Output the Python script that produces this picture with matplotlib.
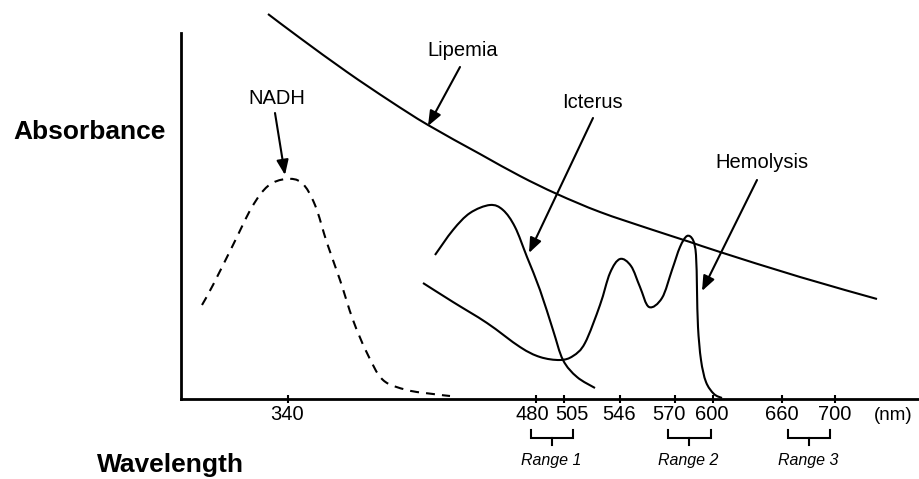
import numpy as np
import matplotlib
matplotlib.use("Agg")
import matplotlib.pyplot as plt
from matplotlib.path import Path
from matplotlib.patches import PathPatch

plt.rcParams['font.family'] = ['Liberation Sans', 'DejaVu Sans']

# Schematic axis: x is a drawing position along the wavelength axis, y is relative absorbance
tick_pos = [288, 536, 564, 620, 675, 713, 782, 835]
tick_label_pos = [287, 532, 572, 619, 669, 712, 782, 835]
tick_labels = ['340', '480', '505', '546', '570', '600', '660', '700']

# Absorbance curves (schematic traces)
lipemia_x = [268, 300, 347, 390, 428, 480, 520, 557, 600, 650, 690, 720, 800, 877]
lipemia_y = [385, 361, 327, 298, 274, 245, 223, 205, 187, 170, 157, 147, 122, 100]

nadh_x = [202, 213, 233, 252, 268, 286, 302, 315, 327, 340, 353, 367, 383, 407, 433, 450]
nadh_y = [94, 114, 154, 192, 213, 220, 216, 194, 156, 119, 79, 46, 19, 9, 5, 3]

icterus_x = [435, 453, 470, 490, 503, 515, 527, 540, 553, 563, 577, 595]
icterus_y = [144, 169, 186, 194, 189, 172, 142, 109, 69, 39, 22, 11]

hemolysis_x = [423, 453, 487, 520, 540, 560, 573, 585, 600, 610, 620, 631, 640, 649,
               662, 672, 680, 687, 693, 696, 697, 698, 701, 706, 714, 722]
hemolysis_y = [116, 97, 76, 52, 42, 39, 43, 56, 94, 126, 140, 133, 112, 92,
               101, 129, 152, 163, 159, 144, 109, 72, 39, 17, 5, 1]

# Labels with arrow start and arrow tip
labels = ['Lipemia', 'NADH', 'Icterus', 'Hemolysis']
label_xy = [(463, 348), (277, 301), (592, 296), (762, 237)]
arrow_from = [(460, 332), (275, 286), (593, 281), (757, 219)]
arrow_to = [(428, 273), (285, 224), (529, 146), (702, 108)]

# Wavelength ranges shown as brackets under the axis
range_names = ['Range 1', 'Range 2', 'Range 3']
range_left = [531, 668, 788]
range_right = [573, 711, 830]


def smooth_path(xs, ys):
    pts = np.column_stack([xs, ys]).astype(float)
    verts = [pts[0]]
    codes = [Path.MOVETO]
    n = len(pts)
    for i in range(n - 1):
        p0 = pts[i - 1] if i > 0 else pts[i]
        p1 = pts[i]
        p2 = pts[i + 1]
        p3 = pts[i + 2] if i + 2 < n else pts[i + 1]
        verts += [p1 + (p2 - p0) / 6.0, p2 - (p3 - p1) / 6.0, p2]
        codes += [Path.CURVE4] * 3
    return Path(verts, codes)


fig = plt.figure(figsize=(9.2, 4.79), dpi=100)
ax = fig.add_axes([181 / 920, 80 / 479, 737 / 920, 366 / 479])
ax.set_xlim(181, 918)
ax.set_ylim(0, 366)

for side in ('top', 'right'):
    ax.spines[side].set_visible(False)
for side in ('left', 'bottom'):
    ax.spines[side].set_linewidth(2.0)
    ax.spines[side].set_color('black')

ax.set_yticks([])
ax.set_xticks(tick_pos, [''] * len(tick_pos))
ax.tick_params(axis='x', direction='inout', length=6, width=1.5, colors='black')
for xp, lab in zip(tick_label_pos, tick_labels):
    ax.text(xp, -16, lab, ha='center', va='center', fontsize=14.5, clip_on=False)
ax.text(893, -16, '(nm)', ha='center', va='center', fontsize=13.5, clip_on=False)

# curves
for xs, ys, ls in [(lipemia_x, lipemia_y, '-'),
                   (icterus_x, icterus_y, '-'),
                   (hemolysis_x, hemolysis_y, '-'),
                   (nadh_x, nadh_y, (0, (4.3, 3.4)))]:
    ax.add_patch(PathPatch(smooth_path(xs, ys), fill=False, lw=1.5,
                           ec='black', linestyle=ls, clip_on=False,
                           capstyle='butt', joinstyle='round'))

# annotations
for name, lxy, a0, a1 in zip(labels, label_xy, arrow_from, arrow_to):
    ax.text(lxy[0], lxy[1], name, ha='center', va='center', fontsize=14.5,
            clip_on=False)
    ax.annotate('', xy=a1, xytext=a0,
                arrowprops=dict(arrowstyle='-|>,head_length=0.45,head_width=0.18',
                                lw=1.5, color='black', shrinkA=0, shrinkB=0,
                                mutation_scale=20),
                annotation_clip=False)

# range brackets
for name, lft, rgt in zip(range_names, range_left, range_right):
    mid = (lft + rgt) / 2
    ax.plot([lft, lft, rgt, rgt], [-31, -39, -39, -31], color='black', lw=1.5,
            clip_on=False, solid_joinstyle='miter')
    ax.plot([mid, mid], [-39, -46], color='black', lw=1.5, clip_on=False)
    ax.text(mid - 1, -61, name, ha='center', va='center', fontsize=11.5,
            style='italic', clip_on=False)

ax.text(90, 267, 'Absorbance', ha='center', va='center', fontsize=19,
        fontweight='bold', clip_on=False)
ax.text(170, -66, 'Wavelength', ha='center', va='center', fontsize=19,
        fontweight='bold', clip_on=False)

fig.savefig('out.png', dpi=100)
